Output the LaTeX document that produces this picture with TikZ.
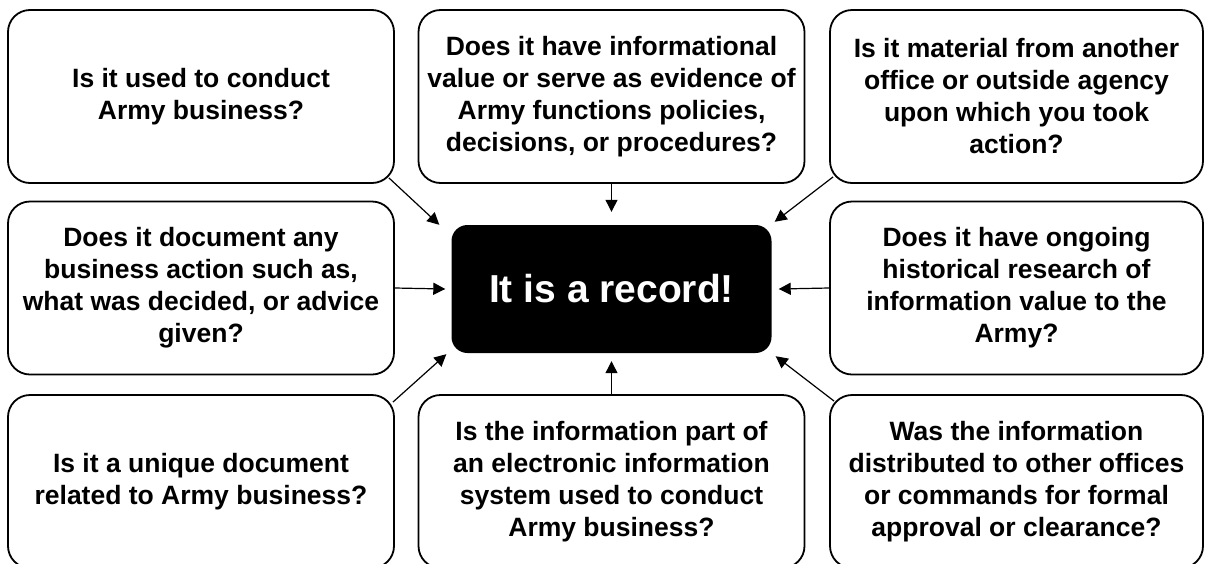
\documentclass[tikz,border=0pt]{standalone}
\usepackage{fontspec}
\setmainfont{Liberation Sans}
\usetikzlibrary{arrows.meta}
\begin{document}
\begin{tikzpicture}[x=1pt,y=-1pt,
  qbox/.style={draw=black, line width=1.8pt, rounded corners=22pt, fill=white,
    align=center, inner sep=4pt, font=\bfseries\fontsize{26.5}{32}\selectfont},
  wbox/.style={qbox, minimum width=386pt, minimum height=173pt},
  nbox/.style={qbox, minimum width=373pt, minimum height=173pt},
  recbox/.style={fill=black, text=white, rounded corners=16pt,
    minimum width=320pt, minimum height=128pt,
    font=\bfseries\fontsize{39}{47}\selectfont},
  arr/.style={line width=1.2pt, -{Triangle[length=12pt,width=12pt]}}]
\useasboundingbox (0,0) rectangle (1206,563);

% central statement
\node[recbox] (rec) at (611.5,289) {It is a record!};

% top row of questions
\node[wbox] (tl) at (201,96.5) {Is it used to conduct\\Army business?};
\node[wbox] (tm) at (611.5,96.5) {Does it have informational\\value or serve as evidence of\\Army functions policies,\\decisions, or procedures?};
\node[nbox] (tr) at (1016.5,96.5) {Is it material from another\\office or outside agency\\upon which you took\\action?};

% middle row of questions
\node[wbox] (ml) at (201,288) {Does it document any\\business action such as,\\what was decided, or advice\\given?};
\node[nbox] (mr) at (1016.5,288) {Does it have ongoing\\historical research of\\information value to the\\Army?};

% bottom row of questions
\node[wbox] (bl) at (201,481.5) {Is it a unique document\\related to Army business?};
\node[wbox] (bm) at (611.5,481.5) {Is the information part of\\an electronic information\\system used to conduct\\Army business?};
\node[nbox] (br) at (1016.5,481.5) {Was the information\\distributed to other offices\\or commands for formal\\approval or clearance?};

% connectors into the central statement
\draw[arr] ([shift={(-6pt,6pt)}]tl.south east) -- ([shift={(-12pt,0pt)}]rec.north west);
\draw[arr] (tm.south) -- ([yshift=13pt]rec.north);
\draw[arr] ([shift={(4pt,7pt)}]tr.south west) -- ([shift={(3pt,3pt)}]rec.north east);
\draw[arr] (ml.east) -- ([xshift=-6pt]rec.west);
\draw[arr] (mr.west) -- ([xshift=7pt]rec.east);
\draw[arr] ([shift={(-2pt,-8pt)}]bl.north east) -- ([shift={(-5pt,-1pt)}]rec.south west);
\draw[arr] (bm.north) -- ([yshift=-8pt]rec.south);
\draw[arr] ([shift={(5pt,-7pt)}]br.north west) -- ([shift={(4pt,-3pt)}]rec.south east);
\end{tikzpicture}
\end{document}
